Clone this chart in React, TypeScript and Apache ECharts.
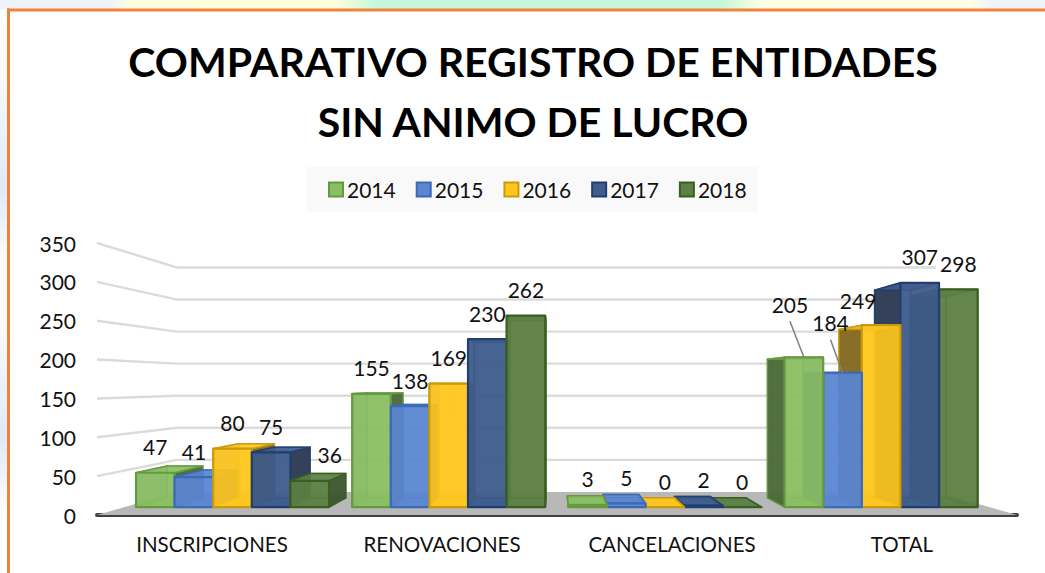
import React, { useEffect, useRef } from "react";
import * as echarts from "echarts";

const categories = ["INSCRIPCIONES", "RENOVACIONES", "CANCELACIONES", "TOTAL"];
const years = ["2014", "2015", "2016", "2017", "2018"];
const v2014 = [47, 155, 3, 205];
const v2015 = [41, 138, 5, 184];
const v2016 = [80, 169, 0, 249];
const v2017 = [75, 230, 2, 307];
const v2018 = [36, 262, 0, 298];
const seriesValues = [v2014, v2015, v2016, v2017, v2018];
const gridTicks = [50, 100, 150, 200, 250, 300, 350];

const frontColors = ["#8abf64", "#5b86d0", "#ffc61e", "#3e5c8c", "#5c8045"];
const edgeColors = ["#659a40", "#3a6ab8", "#c99a0c", "#203f70", "#3a5f22"];
const sideColors = ["#486636", "#3a6198", "#7f6420", "#2b3850", "#3d5630"];

// Hand-placed labels from the original: "series:category" -> [dx, dy, leader line]
const labelNudges: Record<string, [number, number, boolean]> = {
  "4:0": [20, 0, false],
  "0:3": [-14, -27, true],
  "1:3": [-12, -24, true],
  "2:3": [-23, 1, false],
};

const FONT = "Lato";
// vanishing point and depth scales of the fake perspective
const VX = 554;
const VY = 383;
const S_FRONT = 0.94;
const S_BACK = 0.87;
const S_WALL = 0.825;
const proj = (x: number, y: number, s: number) => [VX + (x - VX) * s, VY + (y - VY) * s];

function rgba(hex: string, a: number) {
  const n = parseInt(hex.slice(1), 16);
  return `rgba(${(n >> 16) & 255},${(n >> 8) & 255},${n & 255},${a})`;
}

function poly(points: number[][], fill: string, stroke: string, z2: number, lineWidth = 1.5) {
  return {
    type: "polygon",
    z2,
    shape: { points },
    style: { fill, stroke, lineWidth, lineJoin: "round" },
  };
}

function renderBar(params: any, api: any) {
  const si = params.seriesIndex - 2;
  const cat = api.value(0);
  const val = api.value(1);
  const barW = api.size([1, 0])[0] / 5.6;
  const base = api.coord([cat, 0]);
  const top = api.coord([cat, val]);
  const xL = base[0] + (si - 2.5) * barW;
  const xR = xL + barW;
  const cx0 = proj(xL, base[1], S_FRONT)[0];
  const mirrored = cx0 > VX;
  const z = 10 + (mirrored ? 4 - si : si) * 10;
  const p = (x: number, y: number, s: number) => proj(x, y, s);
  const fb = [p(xL, base[1], S_FRONT), p(xR, base[1], S_FRONT), p(xR, top[1], S_FRONT), p(xL, top[1], S_FRONT)];
  const bb = [p(xL, base[1], S_BACK), p(xR, base[1], S_BACK), p(xR, top[1], S_BACK), p(xL, top[1], S_BACK)];
  const fc = frontColors[si];
  const ec = edgeColors[si];
  const sc = sideColors[si];
  const children: any[] = [
    poly(bb, rgba(fc, 0.55), rgba(ec, 0.75), z),
    poly([fb[0], fb[1], bb[1], bb[0]], rgba(fc, 0.8), rgba(ec, 0.8), z + 1),
    poly([fb[0], fb[3], bb[3], bb[0]], rgba(sc, mirrored ? 0.92 : 0.45), rgba(ec, 0.85), z + 2),
    poly([fb[1], fb[2], bb[2], bb[1]], rgba(sc, mirrored ? 0.45 : 0.92), rgba(ec, 0.85), z + 2),
    poly([fb[3], fb[2], bb[2], bb[3]], rgba(fc, 0.85), rgba(ec, 0.95), z + 3),
    poly(fb, rgba(fc, 0.9), ec, z + 4, 2.2),
  ];
  const cx = (fb[0][0] + fb[1][0]) / 2;
  const ty = fb[2][1];
  const n = labelNudges[`${si}:${cat}`] || [0, 0, false];
  const lx = cx + n[0];
  const ly = ty - 26 + n[1];
  if (n[2]) {
    children.push({
      type: "line",
      z2: 200,
      shape: { x1: lx, y1: ly + 17, x2: cx, y2: ty },
      style: { stroke: "#7f7f7f", lineWidth: 1.5 },
    });
  }
  children.push({
    type: "text",
    z2: 300,
    x: lx,
    y: ly,
    style: {
      text: String(val),
      fill: "#111111",
      font: `400 21px ${FONT}`,
      align: "center",
      verticalAlign: "middle",
    },
  });
  return { type: "group", children };
}

function renderFloor(params: any, api: any) {
  const { x, y, width, height } = params.coordSys;
  const yb = y + height;
  return {
    type: "polygon",
    z2: 1,
    shape: {
      points: [[x, yb], proj(x, yb, S_WALL), proj(x + width, yb, S_WALL), [x + width, yb]],
    },
    style: { fill: "#b8b8b8" },
  };
}

function renderWall(params: any, api: any) {
  const { x, width } = params.coordSys;
  const yv = api.coord([0, api.value(0)])[1];
  return {
    type: "polyline",
    z2: 2,
    shape: { points: [[x, yv], proj(x, yv, S_WALL), proj(x + width, yv, S_WALL)] },
    style: { stroke: "#dbdbdb", lineWidth: 2.4, fill: "none" },
  };
}

export default function App() {
  const ref = useRef<HTMLDivElement>(null);
  useEffect(() => {
    const chart = echarts.init(ref.current!, undefined, { renderer: "svg" });
    const edgeFade = (c: string) =>
      new echarts.graphic.LinearGradient(0, 0, 0, 1, [
        { offset: 0, color: "#ffffff" },
        { offset: 0.12, color: "#f6f9fd" },
        { offset: 0.32, color: "#dfe9f5" },
        { offset: 0.44, color: "#fafcfe" },
        { offset: 0.55, color: "#fafcfe" },
        { offset: 0.76, color: c },
        { offset: 0.9, color: "#ffffff" },
        { offset: 1, color: "#ffffff" },
      ]);
    const topStrip = new echarts.graphic.LinearGradient(0, 0, 1, 0, [
      { offset: 0, color: "#eef3fb" },
      { offset: 0.105, color: "#eef3fb" },
      { offset: 0.125, color: "#fffde0" },
      { offset: 0.32, color: "#fffedc" },
      { offset: 0.36, color: "#c6f7dc" },
      { offset: 0.69, color: "#c6f7dc" },
      { offset: 0.73, color: "#fefee4" },
      { offset: 0.93, color: "#fefee9" },
      { offset: 0.95, color: "#eef3fb" },
      { offset: 1, color: "#eef3fb" },
    ]);
    chart.setOption({
      animation: false,
      backgroundColor: "#ffffff",
      color: frontColors,
      title: {
        text: "COMPARATIVO REGISTRO DE ENTIDADES\nSIN ANIMO DE LUCRO",
        left: 528,
        top: 26,
        textAlign: "center",
        textStyle: { fontFamily: FONT, fontWeight: "bold", fontSize: 41, lineHeight: 60, color: "#000000" },
      },
      legend: {
        data: years,
        left: 307,
        top: 167,
        padding: [12, 11, 12, 21],
        backgroundColor: "#f9f9f9",
        icon: "rect",
        itemWidth: 14,
        itemHeight: 14,
        itemGap: 20,
        textStyle: { fontFamily: FONT, fontSize: 21, color: "#111111", padding: [0, 0, 0, -1] },
      },
      graphic: [
        { type: "rect", z: -10, silent: true, shape: { x: 0, y: 0, width: 1045, height: 9 }, style: { fill: topStrip } },
        { type: "rect", z: -10, silent: true, shape: { x: 0, y: 9, width: 7, height: 564 }, style: { fill: edgeFade("#dfe9f5") } },
        { type: "rect", z: -9, silent: true, shape: { x: 7, y: 8.5, width: 1038, height: 3 }, style: { fill: "#f4823a" } },
        { type: "rect", z: -9, silent: true, shape: { x: 7, y: 8.5, width: 3, height: 564.5 }, style: { fill: "#f0803a" } },
      ],
      grid: { left: 97, right: 28, top: 243, bottom: 58 },
      xAxis: {
        type: "category",
        data: categories,
        axisTick: { show: false },
        axisLine: { show: true, lineStyle: { color: "#404040", width: 4 } },
        axisLabel: { fontFamily: FONT, fontSize: 20.5, color: "#111111", margin: 18 },
      },
      yAxis: {
        type: "value",
        min: 0,
        max: 350,
        interval: 50,
        splitLine: { show: false },
        axisLine: { show: false },
        axisTick: { show: false },
        axisLabel: { fontFamily: FONT, fontSize: 21, color: "#111111", margin: 21 },
      },
      series: [
        { type: "custom", name: "floor", silent: true, clip: false, renderItem: renderFloor, data: [[0]], encode: { x: -1, y: -1 } },
        { type: "custom", name: "wall", silent: true, clip: false, renderItem: renderWall, data: gridTicks.map((t) => [t]), encode: { x: -1, y: 0 } },
        ...years.map((year, i) => ({
          type: "custom",
          name: year,
          clip: false,
          silent: true,
          renderItem: renderBar,
          itemStyle: { color: frontColors[i], borderColor: edgeColors[i], borderWidth: 2 },
          encode: { x: 0, y: 1 },
          data: seriesValues[i].map((v, c) => [c, v]),
        })),
      ],
    });
    return () => chart.dispose();
  }, []);
  return <div ref={ref} style={{ position: "fixed", left: 0, top: 0, width: 1045, height: 573 }} />;
}
